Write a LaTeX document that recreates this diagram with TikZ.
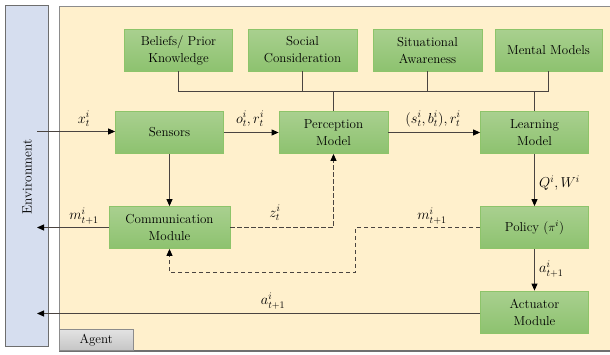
\documentclass[tikz,border=0pt]{standalone}
\usetikzlibrary{arrows.meta}
\definecolor{envfill}{HTML}{D6DEEF}
\definecolor{envdraw}{HTML}{6E6E6E}
\definecolor{agfill}{HTML}{FFF0CC}
\definecolor{agdraw}{HTML}{8C8C8C}
\definecolor{gtop}{HTML}{A9D08F}
\definecolor{gbot}{HTML}{8DC26F}
\definecolor{gdraw}{HTML}{8DC46A}
\definecolor{lncol}{HTML}{4A4440}
\begin{document}
\begin{tikzpicture}[x=1pt,y=-1pt,
  box/.style={draw=gdraw,line width=0.8pt,top color=gtop,bottom color=gbot,
    minimum width=108pt,minimum height=42pt,align=center,inner sep=1pt,
    font=\fontsize{13}{17}\selectfont},
  ln/.style={draw=lncol,line width=1pt},
  tip/.style={-{Triangle[length=7pt,width=6pt,color=black]}},
  arr/.style={ln,tip},
  dsh/.style={ln,dash pattern=on 4.5pt off 2.5pt},
  lbl/.style={font=\fontsize{14}{16}\selectfont,inner sep=1pt}]
\useasboundingbox (0,0) rectangle (610,354);
% environment
\node[draw=envdraw,fill=envfill,line width=1pt,minimum width=43pt,minimum height=341pt,inner sep=0pt] (env) at (26.5,175.5) {};
\node[rotate=90,font=\fontsize{13.5}{15}\selectfont] (envlbl) at (27,177) {Environment};
% agent
\path[draw=agdraw,fill=agfill,line width=0.8pt] (59,6) rectangle (614,350);
\draw[draw=agdraw!80!black,line width=1.5pt] (59,351) -- (614,351);
\node[draw=agdraw,top color=gray!22,bottom color=gray!45,minimum width=74pt,minimum height=21pt,inner sep=0pt,anchor=north west,font=\fontsize{13}{15}\selectfont] (agent) at (59,329) {Agent};
% top boxes
\node[box] (bel) at (178.5,50) {Beliefs/ Prior\\Knowledge};
\node[box,minimum width=109pt] (soc) at (302.5,50) {Social\\Consideration};
\node[box,minimum width=109pt] (sit) at (427.5,50) {Situational\\Awareness};
\node[box,minimum width=107pt] (men) at (548.5,50) {Mental Models};
% middle
\node[box] (sen) at (169.5,132.5) {Sensors};
\node[box,minimum width=109pt] (per) at (333.5,132.5) {Perception\\Model};
\node[box] (lea) at (534.5,132.5) {Learning\\Model};
% row 3
\node[box,minimum width=121pt] (com) at (169.5,227.5) {Communication\\Module};
\node[box] (pol) at (534.5,227.5) {Policy ($\pi^i$)};
\node[box] (act) at (534.5,312) {Actuator\\Module};
% bus
\coordinate (busL) at (178.5,91.5);
\coordinate (busR) at (548.5,91.5);
\draw[ln] (bel.south) |- (busR) -- (men.south);
\draw[ln] (soc.south) -- (soc.south |- busL);
\draw[ln] (sit.south) -- (sit.south |- busL);
\draw[ln] (per.north |- busL) -- (per.north);
\draw[ln] (lea.north |- busL) -- (lea.north);
% arrows
\coordinate (xin) at (37,131.5);
\draw[arr] (xin) -- (sen.west |- xin);
\draw[arr] (sen.east) -- (per.west);
\draw[arr] (per.east) -- (lea.west);
\draw[arr] (sen.south) -- (com.north);
\draw[arr] (lea.south) -- (pol.north);
\draw[arr] (pol.south) -- (act.north);
\coordinate (mout) at (37,227.5);
\draw[arr] (com.west) -- (mout);
\coordinate (aout) at (37,313.5);
\draw[arr] (act.west |- aout) -- (aout);
% dashed
\draw[dsh,tip] (com.east) -| (per.south);
\coordinate (d1) at (355.5,227.5);
\coordinate (d2) at (355.5,272.5);
\coordinate (d3) at (169.5,272.5);
\draw[dsh,tip] (pol.west) -- (d1) -- (d2) -- (d3) -- (com.south);
% labels
\node[lbl] (lx) at (84,119) {$x_t^i$};
\node[lbl] (lo) at (250,119) {$o_t^i, r_t^i$};
\node[lbl] (ls) at (433,119) {$(s_t^i, b_t^i), r_t^i$};
\node[lbl,anchor=west] (lq) at (538,183) {$Q^i, W^i$};
\node[lbl] (lm) at (84,216) {$m_{t+1}^i$};
\node[lbl] (lz) at (275,213) {$z_t^i$};
\node[lbl] (lm2) at (432,216) {$m_{t+1}^i$};
\node[lbl,anchor=west] (la) at (538,269) {$a_{t+1}^i$};
\node[lbl] (la2) at (273,301) {$a_{t+1}^i$};
\end{tikzpicture}
\end{document}
